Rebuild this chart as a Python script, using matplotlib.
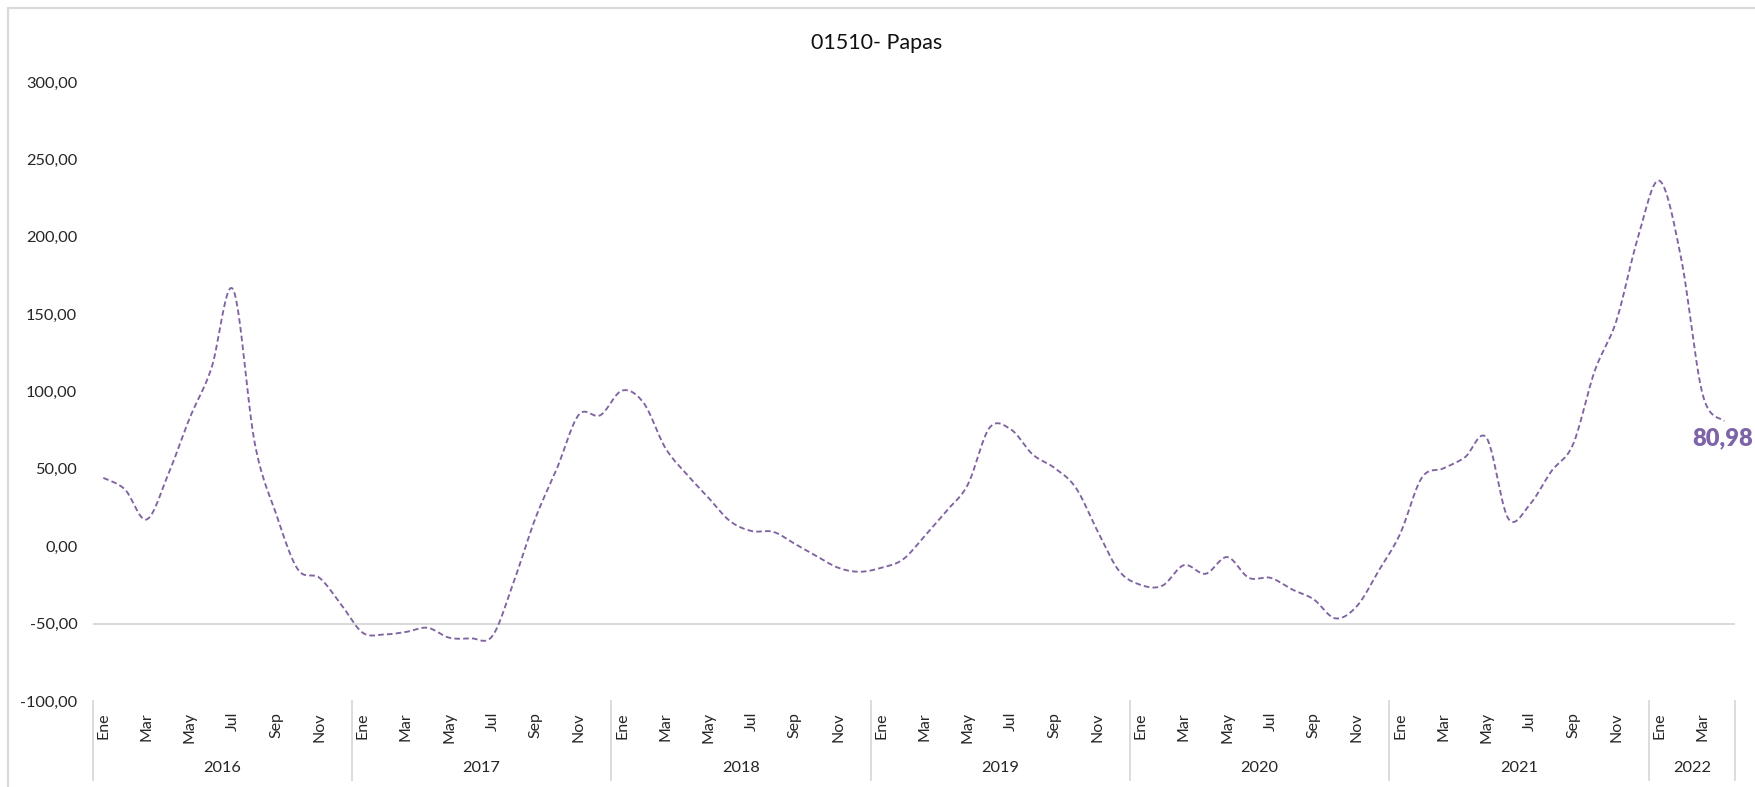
import numpy as np
import matplotlib.pyplot as plt
import matplotlib.transforms as mtransforms
from matplotlib.patches import Rectangle

plt.rcParams['font.family'] = ['Lato', 'DejaVu Sans']

title = '01510- Papas'
years = ['2016', '2017', '2018', '2019', '2020', '2021', '2022']
months_per_year = [12, 12, 12, 12, 12, 12, 4]
month_names = ['Ene', 'Feb', 'Mar', 'Abr', 'May', 'Jun',
               'Jul', 'Ago', 'Sep', 'Oct', 'Nov', 'Dic']

# variacion anual (%) mes a mes
var_2016 = [44.2, 36.7, 17.3, 46.4, 83.0, 115.0, 166.0, 67.0, 20.6, -15.0, -20.4, -37.6]
var_2017 = [-55.9, -57.0, -55.4, -52.7, -59.1, -59.5, -58.0, -22.5, 18.4, 50.7, 85.0, 84.7]
var_2018 = [100.6, 92.6, 63.6, 46.4, 31.3, 16.2, 9.8, 9.3, 1.5, -6.4, -13.9, -16.5]
var_2019 = [-13.9, -8.5, 6.6, 22.7, 39.9, 76.5, 75.4, 59.3, 50.7, 37.7, 9.8, -16.0]
var_2020 = [-25.0, -25.5, -12.2, -17.8, -7.0, -20.4, -20.4, -27.9, -34.3, -46.6, -38.7, -16.0]
var_2021 = [8.0, 44.2, 50.3, 57.5, 70.0, 18.0, 27.0, 48.5, 65.8, 113.1, 145.4, 199.2]
var_2022 = [236.2, 186.3, 98.0, 80.98]

values = np.array(var_2016 + var_2017 + var_2018 + var_2019
                  + var_2020 + var_2021 + var_2022)
x = np.arange(len(values))

purple = '#8064A2'
grey = '#D9D9D9'
text_col = '#262626'


def smooth(x, y, n=24):
    # cubic bezier between points, tangents from the neighbours (like Excel's smoothed line)
    px = np.concatenate([[x[0]], x, [x[-1]]]).astype(float)
    py = np.concatenate([[y[0]], y, [y[-1]]]).astype(float)
    t = np.linspace(0, 1, n, endpoint=False)[:, None]
    out = []
    for i in range(len(x) - 1):
        p0 = np.array([px[i], py[i]])
        p1 = np.array([px[i + 1], py[i + 1]])
        p2 = np.array([px[i + 2], py[i + 2]])
        p3 = np.array([px[i + 3], py[i + 3]])
        c1 = p1 + (p2 - p0) / 6
        c2 = p2 - (p3 - p1) / 6
        seg = ((1 - t) ** 3) * p1 + 3 * ((1 - t) ** 2) * t * c1 \
            + 3 * (1 - t) * t ** 2 * c2 + t ** 3 * p2
        out.append(seg)
    out.append(np.array([[x[-1], y[-1]]]))
    out = np.vstack(out)
    return out[:, 0], out[:, 1]


fig = plt.figure(figsize=(17.56, 7.87), dpi=100)
ax = fig.add_axes([0.0527, 0.1093, 0.9354, 0.7865])

sx, sy = smooth(x, values)
ax.plot(sx, sy, color=purple, lw=1.35, linestyle=(0, (3.0, 1.7)))

ax.axhline(-50, color=grey, lw=1.4, zorder=0)

ax.set_xlim(-0.5, len(values) - 0.5)
ax.set_ylim(-100, 300)
for sp in ax.spines.values():
    sp.set_visible(False)

yt = np.arange(-100, 301, 50)
ax.set_yticks(yt)
ax.set_yticklabels([f'{v:.2f}'.replace('.', ',') for v in yt])
ax.tick_params(axis='y', length=0, pad=11, labelsize=11.8, labelcolor=text_col)

# month ticks every other month, year groups underneath
tick_pos, tick_lab, year_mid, bounds = [], [], [], [-0.5]
start = 0
for yr, n in zip(years, months_per_year):
    for m in range(0, n, 2):
        tick_pos.append(start + m)
        tick_lab.append(month_names[m])
    year_mid.append(start + (n - 1) / 2)
    start += n
    bounds.append(start - 0.5)

ax.set_xticks(tick_pos)
ax.set_xticklabels(tick_lab, rotation=90, va='top', ha='center')
ax.tick_params(axis='x', length=0, pad=8, labelsize=11.5, labelcolor=text_col)

trans = mtransforms.blended_transform_factory(ax.transData, ax.transAxes)
for b in bounds:
    ax.plot([b, b], [0, -0.1276], transform=trans, color=grey, lw=1.3, clip_on=False)
for yr, mid in zip(years, year_mid):
    ax.annotate(yr, xy=(mid, 0), xycoords=trans, xytext=(0, -48.2),
                textcoords='offset points', ha='center', va='center',
                fontsize=11.8, color=text_col)

ax.annotate(f'{values[-1]:.2f}'.replace('.', ','), xy=(x[-1], values[-1]),
            xytext=(-1.5, -12.5), textcoords='offset points', ha='center', va='center',
            fontsize=17, fontweight='heavy', color='#7F63A8')

fig.text(0.499, 0.945, title, ha='center', va='center', fontsize=15.5, color='#111111')

# chart area border
fig.add_artist(Rectangle((8 / 1756, -0.1), 1.2, 1 - 8 / 787 + 0.1, transform=fig.transFigure,
                         fill=False, edgecolor=grey, lw=1.6))

fig.savefig('out.png', dpi=100)
